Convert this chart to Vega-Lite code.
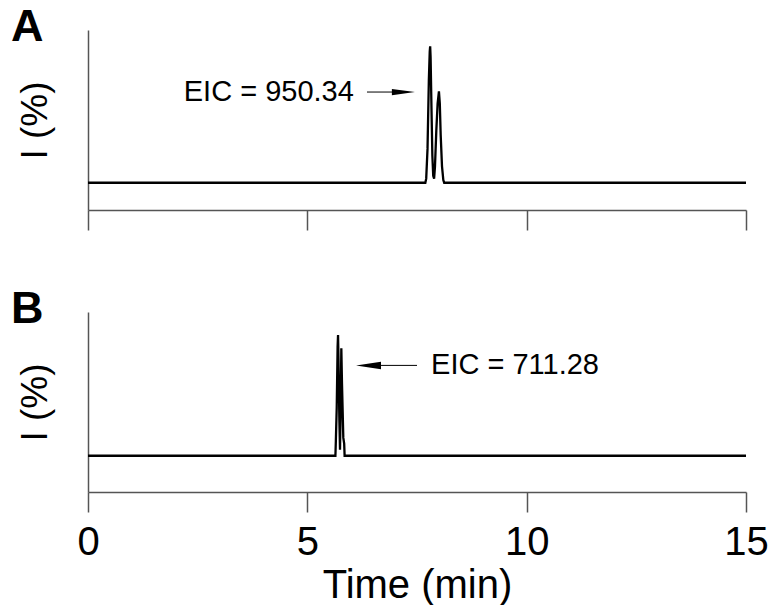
{
  "$schema": "https://vega.github.io/schema/vega-lite/v6.json",
  "background": "white",
  "padding": {"left": 11, "top": 5, "right": 10, "bottom": 0},
  "config": {
    "view": {"stroke": null},
    "font": "Liberation Sans",
    "axis": {"domainColor": "#555", "domainWidth": 1.5, "tickColor": "#555", "tickWidth": 1.5, "grid": false, "labelColor": "black", "titleColor": "black", "titleFontWeight": "normal", "labelFont": "Liberation Sans", "titleFont": "Liberation Sans", "labelFlush": false}
  },
  "datasets": {
    "trace": [
      {"panel": "A", "time": 0, "intensity": 0},
      {"panel": "A", "time": 7.69, "intensity": 0},
      {"panel": "A", "time": 7.71, "intensity": 3},
      {"panel": "A", "time": 7.74, "intensity": 25},
      {"panel": "A", "time": 7.77, "intensity": 75},
      {"panel": "A", "time": 7.79, "intensity": 96},
      {"panel": "A", "time": 7.80, "intensity": 100},
      {"panel": "A", "time": 7.81, "intensity": 92},
      {"panel": "A", "time": 7.83, "intensity": 55},
      {"panel": "A", "time": 7.85, "intensity": 20},
      {"panel": "A", "time": 7.87, "intensity": 5},
      {"panel": "A", "time": 7.89, "intensity": 3},
      {"panel": "A", "time": 7.91, "intensity": 12},
      {"panel": "A", "time": 7.94, "intensity": 38},
      {"panel": "A", "time": 7.97, "intensity": 58},
      {"panel": "A", "time": 8.00, "intensity": 67},
      {"panel": "A", "time": 8.02, "intensity": 58},
      {"panel": "A", "time": 8.04, "intensity": 35},
      {"panel": "A", "time": 8.07, "intensity": 12},
      {"panel": "A", "time": 8.10, "intensity": 2},
      {"panel": "A", "time": 8.12, "intensity": 0},
      {"panel": "A", "time": 15, "intensity": 0},
      {"panel": "B", "time": 0, "intensity": 0},
      {"panel": "B", "time": 5.64, "intensity": 0},
      {"panel": "B", "time": 5.65, "intensity": 12},
      {"panel": "B", "time": 5.67, "intensity": 40},
      {"panel": "B", "time": 5.69, "intensity": 90},
      {"panel": "B", "time": 5.70, "intensity": 100},
      {"panel": "B", "time": 5.71, "intensity": 80},
      {"panel": "B", "time": 5.73, "intensity": 30},
      {"panel": "B", "time": 5.745, "intensity": 5},
      {"panel": "B", "time": 5.76, "intensity": 40},
      {"panel": "B", "time": 5.775, "intensity": 89},
      {"panel": "B", "time": 5.79, "intensity": 60},
      {"panel": "B", "time": 5.82, "intensity": 15},
      {"panel": "B", "time": 5.84, "intensity": 10},
      {"panel": "B", "time": 5.85, "intensity": 0},
      {"panel": "B", "time": 15, "intensity": 0}
    ],
    "ann": [
      {"panel": "A", "shaft_start": 6.36, "shaft_end": 6.98, "head": 7.19, "y": 66.5, "text_x": 6.06, "label": "EIC = 950.34"},
      {"panel": "B", "shaft_start": 6.68, "shaft_end": 7.50, "head": 6.394, "y": 74.8, "text_x": 7.82, "label": "EIC = 711.28"}
    ]
  },
  "spacing": 56,
  "vconcat": [
    {
      "width": 658,
      "height": 180,
      "title": {"text": "A", "anchor": "start", "frame": "group", "dx": -77, "dy": 20, "fontSize": 45, "fontWeight": "bold", "font": "Liberation Sans", "color": "black", "offset": 0},
      "layer": [
        {
          "data": {"name": "trace"},
          "transform": [{"filter": "datum.panel === 'A'"}],
          "mark": {"type": "line", "color": "black", "strokeWidth": 2.3, "clip": true},
          "encoding": {
            "x": {"field": "time", "type": "quantitative", "scale": {"domain": [0, 15], "nice": false, "zero": false},
                  "axis": {"values": [0, 5, 10, 15], "tickSize": 20, "labels": false, "title": null}},
            "y": {"field": "intensity", "type": "quantitative", "scale": {"domain": [-20, 112], "nice": false, "zero": false},
                  "axis": {"ticks": false, "labels": false, "title": "I (%)", "titleFontSize": 37, "titlePadding": 34}}
          }
        },
        {
          "data": {"name": "ann"},
          "transform": [{"filter": "datum.panel === 'A'"}],
          "mark": {"type": "rule", "color": "black", "strokeWidth": 1},
          "encoding": {
            "x": {"field": "shaft_start", "type": "quantitative"},
            "x2": {"field": "shaft_end"},
            "y": {"field": "y", "type": "quantitative"}
          }
        },
        {
          "data": {"name": "ann"},
          "transform": [{"filter": "datum.panel === 'A'"}],
          "mark": {"type": "point", "shape": "M-1,-0.27L1,0L-1,0.27Z", "filled": true, "color": "black", "opacity": 1, "size": 529},
          "encoding": {
            "x": {"field": "head", "type": "quantitative"},
            "y": {"field": "y", "type": "quantitative"}
          }
        },
        {
          "data": {"name": "ann"},
          "transform": [{"filter": "datum.panel === 'A'"}],
          "mark": {"type": "text", "align": "right", "baseline": "middle", "fontSize": 29, "color": "black"},
          "encoding": {
            "x": {"field": "text_x", "type": "quantitative"},
            "y": {"field": "y", "type": "quantitative"},
            "text": {"field": "label"}
          }
        }
      ]
    },
    {
      "width": 658,
      "height": 180,
      "title": {"text": "B", "anchor": "start", "frame": "group", "dx": -77, "dy": 20, "fontSize": 45, "fontWeight": "bold", "font": "Liberation Sans", "color": "black", "offset": 0},
      "layer": [
        {
          "data": {"name": "trace"},
          "transform": [{"filter": "datum.panel === 'B'"}],
          "mark": {"type": "line", "color": "black", "strokeWidth": 2.3, "clip": true},
          "encoding": {
            "x": {"field": "time", "type": "quantitative", "scale": {"domain": [0, 15], "nice": false, "zero": false},
                  "axis": {"values": [0, 5, 10, 15], "tickSize": 20, "labelFontSize": 40, "labelPadding": 10, "title": "Time (min)", "titleFontSize": 40, "titlePadding": 3}},
            "y": {"field": "intensity", "type": "quantitative", "scale": {"domain": [-30, 119], "nice": false, "zero": false},
                  "axis": {"ticks": false, "labels": false, "title": "I (%)", "titleFontSize": 37, "titlePadding": 34}}
          }
        },
        {
          "data": {"name": "ann"},
          "transform": [{"filter": "datum.panel === 'B'"}],
          "mark": {"type": "rule", "color": "black", "strokeWidth": 1},
          "encoding": {
            "x": {"field": "shaft_start", "type": "quantitative"},
            "x2": {"field": "shaft_end"},
            "y": {"field": "y", "type": "quantitative"}
          }
        },
        {
          "data": {"name": "ann"},
          "transform": [{"filter": "datum.panel === 'B'"}],
          "mark": {"type": "point", "shape": "M1,-0.3L-1,0L1,0.3Z", "filled": true, "color": "black", "opacity": 1, "size": 625},
          "encoding": {
            "x": {"field": "head", "type": "quantitative"},
            "y": {"field": "y", "type": "quantitative"}
          }
        },
        {
          "data": {"name": "ann"},
          "transform": [{"filter": "datum.panel === 'B'"}],
          "mark": {"type": "text", "align": "left", "baseline": "middle", "fontSize": 29, "color": "black"},
          "encoding": {
            "x": {"field": "text_x", "type": "quantitative"},
            "y": {"field": "y", "type": "quantitative"},
            "text": {"field": "label"}
          }
        }
      ]
    }
  ]
}
